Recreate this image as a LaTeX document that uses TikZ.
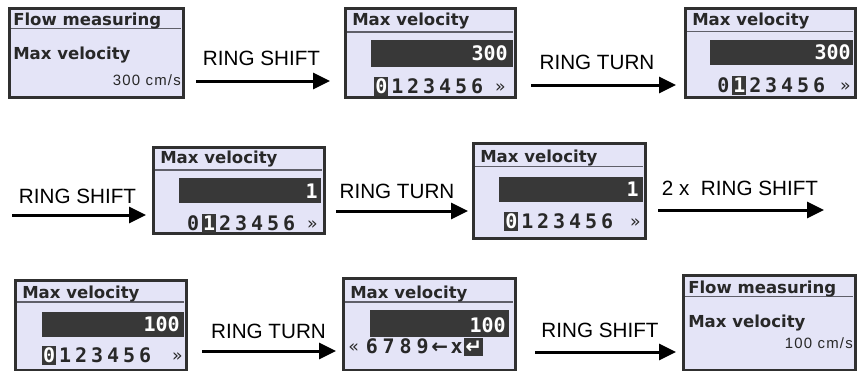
\documentclass[tikz,border=0pt]{standalone}
\usepackage{fontspec}
\setmainfont{Liberation Sans}
\newfontfamily\scrfont{DejaVu Sans}
\newfontfamily\scrmono{DejaVu Sans Mono}
\newfontfamily\scrunit{Liberation Sans}[LetterSpace=8]
\usetikzlibrary{arrows.meta}
\definecolor{scrbg}{RGB}{228,228,247}
\definecolor{scrframe}{RGB}{48,48,48}
\definecolor{scrbar}{RGB}{56,56,56}
\definecolor{scrtext}{RGB}{40,40,40}
\definecolor{scrline}{RGB}{95,95,105}
\newcommand\dgw{12pt}
\newcommand\dg[1]{\makebox[\dgw]{#1}}
\newcommand\hl[1]{\makebox[\dgw]{\setlength{\fboxsep}{0.7pt}\colorbox{scrbar}{\textcolor{white}{\rule[-1.5pt]{0pt}{12pt}#1}}}}
\newcommand\rectnode[6]{\node[#1, minimum width={(#5-#3)*0.75pt}, minimum height={(#6-#4)*0.75pt}] (#2) at ({(#3+#5)/2},{(#4+#6)/2}) {};}
\begin{document}
\begin{tikzpicture}[x=0.75pt,y=-0.75pt,
 screen/.style={draw=scrframe, line width=2.25pt, fill=scrbg, inner sep=0pt, outer sep=0pt},
 bar/.style={fill=scrbar, draw=none, inner sep=0pt, outer sep=0pt},
 ttl/.style={anchor=base west, inner sep=0pt, text=scrtext, font=\scrfont\bfseries\fontsize{12.4}{14}\selectfont},
 unit/.style={anchor=base east, inner sep=0pt, text=scrtext, font=\scrunit\fontsize{11.2}{13}\selectfont},
 barnum/.style={anchor=base east, inner sep=0pt, text=white, font=\scrmono\bfseries\fontsize{15}{17}\selectfont},
 digits/.style={anchor=base west, inner sep=0pt, text=scrtext, font=\scrmono\bfseries\fontsize{15}{17}\selectfont},
 more/.style={inner sep=0pt, text=scrtext, font=\scrfont\fontsize{13}{15}\selectfont},
 sep/.style={draw=scrline, line width=0.9pt},
 arr/.style={line width=2.25pt, -{Triangle[length=12.75pt,width=12pt]}},
 lbl/.style={anchor=base, inner sep=0pt, font=\fontsize{15.5}{18}\selectfont}]
\useasboundingbox (0,0) rectangle (857,371);

% ---------- screen 1
\rectnode{screen}{s1}{9}{8}{183}{97}
\draw[sep] (11,28.5) -- (181,28.5);
\node[ttl] (s1t) at (13,25.5) {Flow measuring};
\node[ttl] (s1m) at (13,59) {Max velocity};
\node[unit] (s1u) at (181,85) {300 cm/s};

% ---------- screen 2
\rectnode{screen}{s2}{345}{8}{515}{97}
\draw[sep] (347,32) -- (513,32);
\node[ttl] (s2t) at (352,25) {Max velocity};
\rectnode{bar}{s2b}{371}{40}{513}{67}
\node[barnum] (s2n) at (508,60) {300};
\node[digits] (s2d) at (373,93) {\hl{0}\dg{1}\dg{2}\dg{3}\dg{4}\dg{5}\dg{6}};
\node[more, anchor=base east] (s2r) at (506,92) {»};

% ---------- screen 3
\rectnode{screen}{s3}{685}{8}{855}{97}
\draw[sep] (687,31.5) -- (853,31.5);
\node[ttl] (s3t) at (692,25) {Max velocity};
\rectnode{bar}{s3b}{710}{40}{853}{65}
\node[barnum] (s3n) at (851,59) {300};
\node[digits] (s3d) at (715,92) {\dg{0}\hl{1}\dg{2}\dg{3}\dg{4}\dg{5}\dg{6}};
\node[more, anchor=base east] (s3r) at (851,91) {»};

% ---------- screen 4
\rectnode{screen}{s4}{153}{147}{324}{233}
\draw[sep] (155,170) -- (322,170);
\node[ttl] (s4t) at (160,163) {Max velocity};
\rectnode{bar}{s4b}{179}{178}{321}{203}
\node[barnum] (s4n) at (318,198) {1};
\node[digits] (s4d) at (185,230) {\dg{0}\hl{1}\dg{2}\dg{3}\dg{4}\dg{5}\dg{6}};
\node[more, anchor=base east] (s4r) at (318,229) {»};

% ---------- screen 5
\rectnode{screen}{s5}{473}{143}{645}{238}
\draw[sep] (475,166.5) -- (643,166.5);
\node[ttl] (s5t) at (480,162) {Max velocity};
\rectnode{bar}{s5b}{499}{177}{643}{202}
\node[barnum] (s5n) at (639,196) {1};
\node[digits] (s5d) at (503,228) {\hl{0}\dg{1}\dg{2}\dg{3}\dg{4}\dg{5}\dg{6}};
\node[more, anchor=base east] (s5r) at (641,227) {»};

% ---------- screen 6
\rectnode{screen}{s6}{15}{280}{186}{370}
\draw[sep] (17,302) -- (184,302);
\node[ttl] (s6t) at (22,298) {Max velocity};
\rectnode{bar}{s6b}{42}{312}{184}{337}
\node[barnum] (s6n) at (180,331) {100};
\node[digits] (s6d) at (41,362) {\hl{0}\dg{1}\dg{2}\dg{3}\dg{4}\dg{5}\dg{6}};
\node[more, anchor=base east] (s6r) at (183,361) {»};

% ---------- screen 7
\rectnode{screen}{s7}{343}{278}{515}{370}
\draw[sep] (345,302) -- (513,302);
\node[ttl] (s7t) at (350,298) {Max velocity};
\rectnode{bar}{s7b}{370}{310}{509}{337}
\node[barnum] (s7n) at (506,332) {100};
\node[more, anchor=base west] (s7l) at (348,352) {«};
\node[digits] (s7d) at (363,353) {\renewcommand\dgw{12.75pt}\dg{6}\dg{7}\dg{8}\dg{9}\dg{{\scrfont ←}}\dg{x}\hl{{\scrfont ↵}}};

% ---------- screen 8
\rectnode{screen}{s8}{683}{275}{855}{370}
\draw[sep] (685,296.5) -- (853,296.5);
\node[ttl] (s8t) at (688,293) {Flow measuring};
\node[ttl] (s8m) at (688,327) {Max velocity};
\node[unit] (s8u) at (853,348) {100 cm/s};

% ---------- arrows
\coordinate (a1s) at (196,81);  \coordinate (a1e) at (330,81);
\draw[arr] (a1s) -- (a1e);
\node[lbl] (l1) at (261.5,65) {RING SHIFT};

\coordinate (a2s) at (531,85);  \coordinate (a2e) at (676,85);
\draw[arr] (a2s) -- (a2e);
\node[lbl] (l2) at (597,69) {RING TURN};

\coordinate (a3s) at (12,215);  \coordinate (a3e) at (146,215);
\draw[arr] (a3s) -- (a3e);
\node[lbl] (l3) at (77.5,203) {RING SHIFT};

\coordinate (a4s) at (336,211); \coordinate (a4e) at (468,211);
\draw[arr] (a4s) -- (a4e);
\node[lbl] (l4) at (397,198) {RING TURN};

\coordinate (a5s) at (658,210); \coordinate (a5e) at (824,210);
\draw[arr] (a5s) -- (a5e);
\node[lbl] (l5) at (740,195) {2 x~~RING SHIFT};

\coordinate (a6s) at (202,351); \coordinate (a6e) at (336,351);
\draw[arr] (a6s) -- (a6e);
\node[lbl] (l6) at (268.5,338) {RING TURN};

\coordinate (a7s) at (535,352); \coordinate (a7e) at (676,352);
\draw[arr] (a7s) -- (a7e);
\node[lbl] (l7) at (600,337) {RING SHIFT};
\end{tikzpicture}
\end{document}
